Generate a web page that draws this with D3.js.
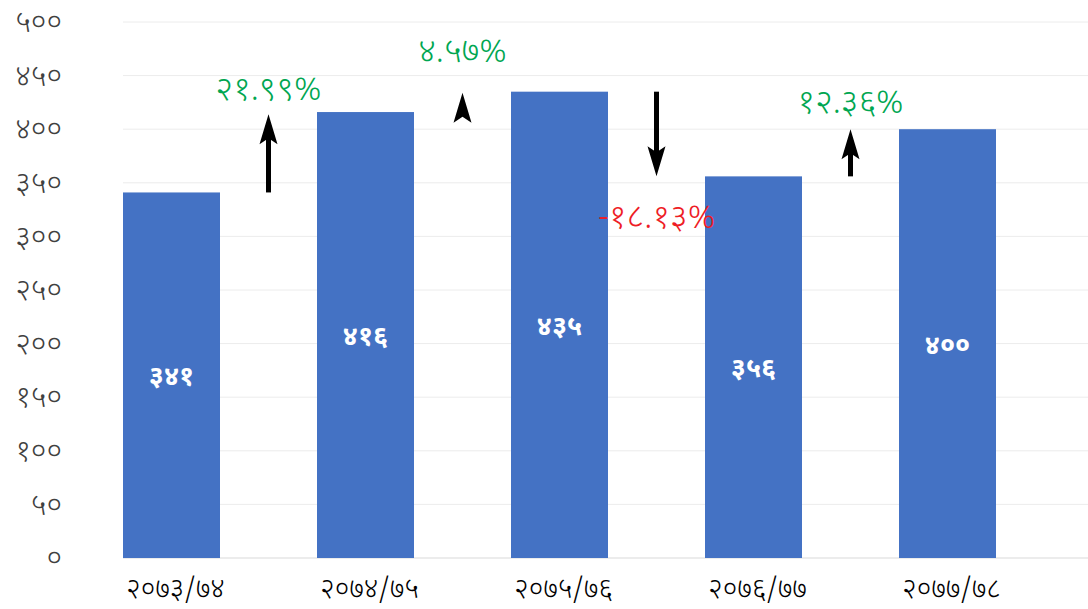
<!DOCTYPE html>
<html>
<head>
<meta charset="utf-8">
<script src="https://cdn.jsdelivr.net/npm/d3@7/dist/d3.min.js"></script>
<style>
  body { margin: 0; background: #fff; }
  svg { display: block; font-family: "Noto Sans Devanagari", "Noto Sans", "Lohit Devanagari", sans-serif; }
</style>
</head>
<body>
<svg id="chart" width="1088" height="609"></svg>
<script>
// data
var categories = ['२०७३/७४', '२०७४/७५', '२०७५/७६', '२०७६/७७', '२०७७/७८'];
var values = [341, 416, 435, 356, 400];
var valueLabels = ['३४१', '४१६', '४३५', '३५६', '४००'];
var yTicks = [0, 50, 100, 150, 200, 250, 300, 350, 400, 450, 500];
var changeLabels = ['२१.९९%', '४.५७%', '-१८.१३%', '१२.३६%'];
var changeUp = [true, true, false, true];
var arrowFrom = [341, 407, 435, 356];   // arrow tail (value units)
var arrowTo = [414, 434, 356, 400];     // arrow tip (value units)
var labelAt = [427, 463, 308, 415];     // label baseline (value units)

var devDigits = '०१२३४५६७८९';
var toDev = function(n) { return String(n).replace(/[0-9]/g, function(c) { return devDigits[+c]; }); };

var svg = d3.select('#chart');
var width = 1088;
var height = 609;
var plot_top = 22, plot_bottom = 558;

var x = d3.scaleBand().domain(categories).range([74.5, 1044.5]).paddingInner(0.5).paddingOuter(0.25);
var y = d3.scaleLinear().domain([0, 500]).range([plot_bottom, plot_top]);

// grid
svg.append('g').selectAll('line').data(yTicks).enter().append('line')
    .attr('x1', 123).attr('x2', width)
    .attr('y1', function(d) { return y(d); }).attr('y2', function(d) { return y(d); })
    .attr('stroke', function(d) { return d == 0 ? '#d9d9d9' : '#ececec'; })
    .attr('stroke-width', 1);

// y axis labels
var yAxis = d3.axisLeft(y).tickValues(yTicks).tickFormat(toDev).tickSize(0).tickPadding(0);
var gy = svg.append('g').attr('transform', 'translate(62,0)').call(yAxis).attr('font-family', null);
gy.select('.domain').remove();
gy.selectAll('text').attr('font-size', 30).attr('font-weight', 300).attr('fill', '#404040');

// bars
var bw = x.bandwidth();
svg.append('g').selectAll('rect').data(values).enter().append('rect')
    .attr('x', function(d, i) { return x(categories[i]); })
    .attr('y', function(d) { return y(d); })
    .attr('width', bw)
    .attr('height', function(d) { return y(0) - y(d); })
    .attr('fill', '#4472c4');

svg.append('g').selectAll('text').data(values).enter().append('text')
    .attr('x', function(d, i) { return x(categories[i]) + bw / 2; })
    .attr('y', function(d) { return (y(d) + y(0)) / 2 + 10; })
    .attr('text-anchor', 'middle')
    .attr('font-size', 27).attr('font-weight', 'bold').attr('fill', '#fff')
    .text(function(d, i) { return valueLabels[i]; });

// x axis labels
var xAxis = d3.axisBottom(x).tickSize(0).tickPadding(0);
var gx = svg.append('g').attr('transform', 'translate(4,' + (plot_bottom + 18) + ')').call(xAxis).attr('font-family', null);
gx.select('.domain').remove();
gx.selectAll('text').attr('font-size', 28).attr('font-weight', 300).attr('fill', '#000').attr('dy', '0.8em');

// change arrows between bars
var gap = x.step() - bw;
var midX = function(i) { return x(categories[i]) + bw + gap / 2; };
var headLen = 30, headW = 9, notch = 6;
var arrows = svg.append('g');
changeLabels.forEach(function(lbl, i) {
    var cx = midX(i);
    var y0 = y(arrowFrom[i]), y1 = y(arrowTo[i]);
    var dir = y1 < y0 ? -1 : 1; // -1 = pointing up
    var base = y1 - dir * headLen;
    if (Math.abs(y1 - y0) > headLen) {
        arrows.append('line')
            .attr('x1', cx).attr('x2', cx)
            .attr('y1', y0).attr('y2', base + dir * (notch + 3))
            .attr('stroke', '#000').attr('stroke-width', 5);
    }
    arrows.append('path')
        .attr('d', 'M' + cx + ',' + y1 +
            'L' + (cx + headW) + ',' + base +
            'L' + cx + ',' + (base + dir * notch) +
            'L' + (cx - headW) + ',' + base + 'Z')
        .attr('fill', '#000');

    svg.append('text')
        .attr('x', cx).attr('y', y(labelAt[i]))
        .attr('text-anchor', 'middle')
        .attr('font-size', 34).attr('font-weight', 300)
        .attr('fill', changeUp[i] ? '#00a651' : '#ee1c25')
        .text(lbl);
});
</script>
</body>
</html>
